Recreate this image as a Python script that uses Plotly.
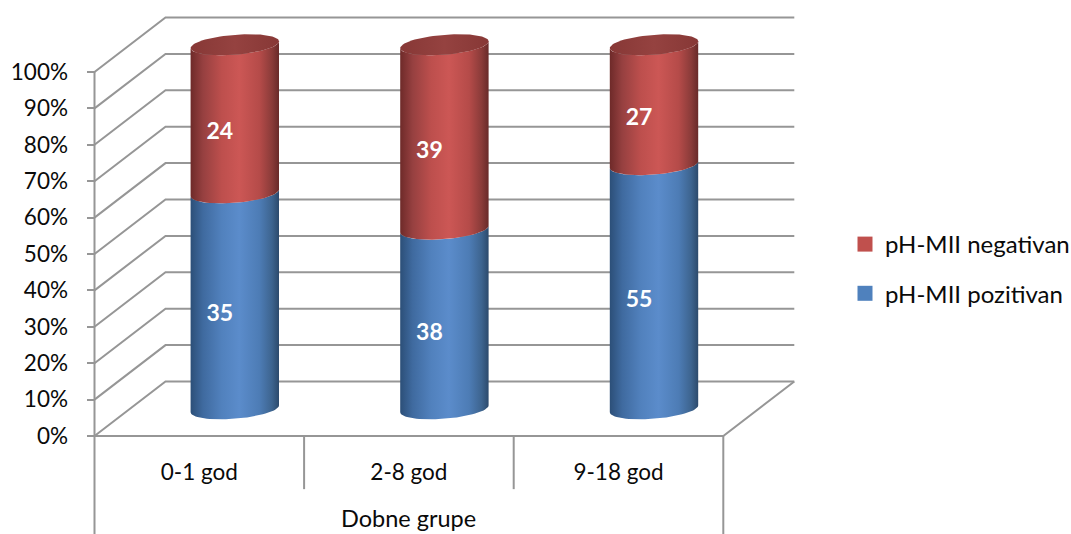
import numpy as np
import plotly.graph_objects as go

# Patient counts per age group
categories = ["0-1 god", "2-8 god", "9-18 god"]
pozitivan = [35, 38, 55]
negativan = [24, 39, 27]
percent_ticks = [0, 10, 20, 30, 40, 50, 60, 70, 80, 90, 100]
percent_labels = [f"{p}%" for p in percent_ticks]
series_names = ["pH-MII negativan", "pH-MII pozitivan"]
axis_title = "Dobne grupe"

FONT = "Lato"
TEXT = "#0a0a0a"
GRID = "#969696"

# Pseudo-3D box: the back wall is offset from the front plane by this depth
W, H = 1071, 534
X_UNIT = 209.6          # px per category
Y_UNIT = 3.64           # px per percent
X0_PX, Y0_PX = 199.3, 436.0
DEPTH_X = 71 / X_UNIT
DEPTH_Y = 54.5 / Y_UNIT

# Cylinder shape in axis units
RX = 44.2 / X_UNIT
RY = 10.0 / Y_UNIT
TILT = 3.4 / Y_UNIT

BLUE_SCALE = [[0, "#2c4f78"], [0.14, "#3f6a9f"], [0.35, "#5181bd"], [0.55, "#5b8ccb"],
              [0.78, "#4d7cb5"], [0.92, "#3d648f"], [1, "#2c4a6c"]]
RED_SCALE = [[0, "#6e2a29"], [0.14, "#964040"], [0.35, "#bd4f4d"], [0.55, "#cc5755"],
             [0.78, "#b54b49"], [0.92, "#8a3b39"], [1, "#682a29"]]
LID_SCALE = [[0, "#873836"], [0.5, "#954240"], [1, "#873836"]]

fig = go.Figure()


def wall_lines():
    xs, ys = [], []
    left, right = -0.5, len(categories) - 0.5
    # Gridlines: up the side wall, then along the back wall
    for p in percent_ticks:
        xs += [left, left + DEPTH_X, right + DEPTH_X, None]
        ys += [p, p + DEPTH_Y, p + DEPTH_Y, None]
    # Floor edge and front vertical axis
    xs += [right + DEPTH_X, right, left, None, left, left, None, right, right, None]
    ys += [DEPTH_Y, 0, 0, None, 100, -30, None, 0, -30, None]
    # Separators between the categories
    for i in range(1, len(categories)):
        xs += [left + i, left + i, None]
        ys += [0, -14.6, None]
    return xs, ys


gx, gy = wall_lines()
fig.add_trace(go.Scatter(x=gx, y=gy, mode="lines", line=dict(color=GRID, width=2),
                         hoverinfo="skip", showlegend=False))


def front_arc(cx, level):
    # Front half of the tilted ellipse, running left to right
    t = np.linspace(np.pi, 0, 40)
    return cx + RX * np.cos(t), level + TILT * np.cos(t) - RY * np.sin(t)


def body(cx, low, high, scale, name):
    bx, by = front_arc(cx, low)
    tx, ty = front_arc(cx, high)
    xs = np.concatenate([bx, tx[::-1]])
    ys = np.concatenate([by, ty[::-1]])
    fig.add_trace(go.Scatter(
        x=xs, y=ys, mode="lines", line=dict(width=0), fill="toself",
        fillgradient=dict(type="horizontal", colorscale=scale),
        name=name, showlegend=False, hoverinfo="skip"))


def lid(cx, level):
    t = np.linspace(0, 2 * np.pi, 80)
    xs = cx + RX * np.cos(t)
    ys = level + TILT * np.cos(t) + RY * np.sin(t)
    fig.add_trace(go.Scatter(
        x=xs, y=ys, mode="lines", line=dict(width=0), fill="toself",
        fillgradient=dict(type="horizontal", colorscale=LID_SCALE),
        showlegend=False, hoverinfo="skip"))


label_x, label_y, label_text = [], [], []
for i, (pos, neg) in enumerate(zip(pozitivan, negativan)):
    total = pos + neg
    share = 100 * pos / total
    cx = i + DEPTH_X / 2
    base = DEPTH_Y / 2
    body(cx, base, base + share, BLUE_SCALE, series_names[1])
    body(cx, base + share, base + 100, RED_SCALE, series_names[0])
    lid(cx, base + 100)
    # Value labels sit a little left of and below each segment's centre
    lx = cx - 15 / X_UNIT
    label_x += [lx, lx]
    label_y += [base + share / 2 - 4.1, base + (share + 100) / 2 - 4.1]
    label_text += [str(pos), str(neg)]

fig.add_trace(go.Scatter(
    x=label_x, y=label_y, text=label_text, mode="text",
    textfont=dict(family=FONT, size=23, color="white", weight="bold"),
    textposition="middle center", showlegend=False, hoverinfo="skip"))

# Legend entries: flat squares in the series colours
for name, colour in zip(series_names, ["#c0504d", "#4f81bd"]):
    fig.add_trace(go.Scatter(
        x=[None], y=[None], mode="markers", name=name, legendgroup=name,
        marker=dict(symbol="square", size=15, color=colour)))

fig.update_layout(
    width=W, height=H, margin=dict(l=0, r=0, t=0, b=0, autoexpand=False),
    paper_bgcolor="white", plot_bgcolor="white",
    font=dict(family=FONT, size=22.5, color=TEXT),
    legend=dict(x=845 / W, y=1 - 269 / H, xanchor="left", yanchor="middle",
                traceorder="grouped", tracegroupgap=15, font=dict(size=24),
                bgcolor="rgba(0,0,0,0)", itemwidth=30),
    xaxis=dict(
        range=[-X0_PX / X_UNIT, (W - X0_PX) / X_UNIT],
        tickmode="array", tickvals=list(range(len(categories))), ticktext=categories,
        anchor="free", position=1 - Y0_PX / H,
        ticks="outside", ticklen=16, tickcolor="rgba(0,0,0,0)",
        showgrid=False, zeroline=False, showline=False, fixedrange=True,
    ),
    yaxis=dict(
        range=[-(H - Y0_PX) / Y_UNIT, Y0_PX / Y_UNIT],
        tickmode="array", tickvals=percent_ticks, ticktext=percent_labels,
        anchor="free", position=(X0_PX - 0.5 * X_UNIT) / W,
        ticks="outside", ticklen=8, tickwidth=2, tickcolor=GRID,
        ticklabelstandoff=14,
        showgrid=False, zeroline=False, showline=False, fixedrange=True,
    ),
    annotations=[dict(x=1, y=-97.5 / Y_UNIT, xref="x", yref="y", text=axis_title,
                      showarrow=False, xanchor="center", yanchor="bottom",
                      font=dict(family=FONT, size=23.5, color=TEXT))],
)

fig.write_html("out.html")
